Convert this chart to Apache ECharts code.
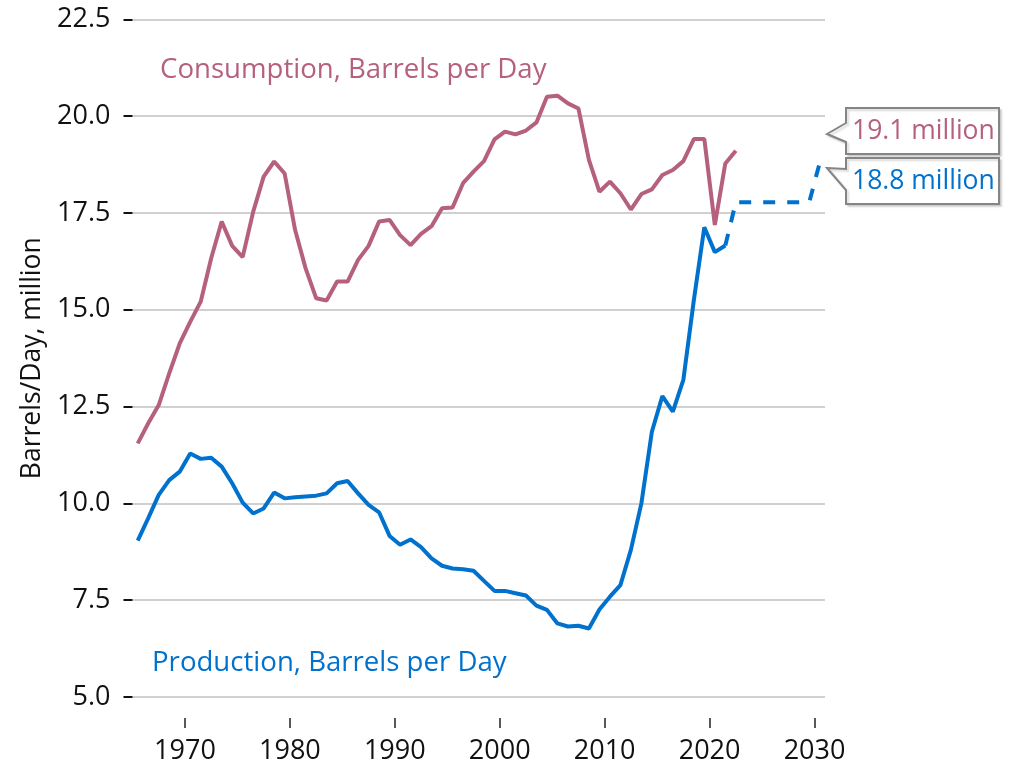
<!DOCTYPE html>
<html>
<head>
<meta charset="utf-8">
<script src="https://cdn.jsdelivr.net/npm/echarts@6/dist/echarts.min.js"></script>
<style>
  html, body { margin: 0; padding: 0; background: #fff; }
  #chart { width: 1009px; height: 768px; }
</style>
</head>
<body>
<div id="chart"></div>
<script>
// annual values, million barrels per day
const years = [];
for (let y = 1965; y <= 2022; y++) years.push(y);

const consumption = [
  11.55, 12.07, 12.54, 13.36, 14.13, 14.69, 15.21, 16.33, 17.28, 16.65,
  16.36, 17.53, 18.44, 18.83, 18.52, 17.06, 16.07, 15.30, 15.24, 15.73,
  15.73, 16.29, 16.65, 17.28, 17.32, 16.93, 16.67, 16.96, 17.16, 17.62,
  17.64, 18.27, 18.57, 18.84, 19.40, 19.60, 19.53, 19.63, 19.84, 20.50,
  20.53, 20.33, 20.20, 18.87, 18.05, 18.31, 18.01, 17.59, 17.99, 18.11,
  18.48, 18.61, 18.84, 19.41, 19.41, 17.19, 18.78, 19.11
]

const productionYears = years.slice(0, 57) // 1965-2021
const production = [
  9.04, 9.62, 10.22, 10.60, 10.82, 11.29, 11.15, 11.18, 10.95, 10.52,
  10.02, 9.74, 9.87, 10.28, 10.13, 10.16, 10.18, 10.20, 10.26, 10.52,
  10.58, 10.26, 9.96, 9.77, 9.16, 8.93, 9.07, 8.87, 8.58, 8.39,
  8.32, 8.30, 8.26, 8.00, 7.74, 7.74, 7.68, 7.62, 7.36, 7.25,
  6.90, 6.82, 6.84, 6.77, 7.26, 7.59, 7.89, 8.80, 10.00, 11.85,
  12.77, 12.37, 13.19, 15.25, 17.13, 16.49, 16.66
]

// projection (dashed), starts from last actual point
const projectionYears = [2021, 2022, 2023, 2024, 2025, 2026, 2027, 2028, 2029, 2030]
const projection = [16.66, 17.78, 17.78, 17.78, 17.78, 17.78, 17.78, 17.78, 17.78, 18.80]

const xTicks = [1970, 1980, 1990, 2000, 2010, 2020, 2030]

const PINK = '#b5607f'
const BLUE = '#0072ce'
const FONT = 'Open Sans'

// annual values are plotted at mid-year
const pairs = (xs, vs) => xs.map((x, i) => [x + 0.5, vs[i]])

const chart = echarts.init(document.getElementById('chart'))

function callout(top, bottom, tipY, baseTop, baseBottom, text, color) {
  const l = 846, r = 999, tip = 827
  return [{
    type: 'polygon',
    shape: {
      points: [[tip, tipY], [l, baseTop], [l, top], [r, top], [r, bottom], [l, bottom], [l, baseBottom]]
    },
    style: {
      fill: '#fff', stroke: '#858585', lineWidth: 2,
      shadowColor: 'rgba(0,0,0,0.15)', shadowBlur: 2, shadowOffsetX: 2, shadowOffsetY: 2
    }
  }, {
    type: 'text',
    x: 852,
    y: (top + bottom) / 2,
    style: { text: text, fill: color, font: '26.5px "' + FONT + '"', verticalAlign: 'middle' }
  }]
}

chart.setOption({
  animation: false,
  grid: { left: 132.5, right: 184, top: 19.4, bottom: 71 },
  xAxis: {
    type: 'value',
    min: 1965,
    max: 2031,
    offset: 21,
    splitLine: { show: false },
    axisLine: { show: false },
    axisTick: { show: true, length: 10, customValues: xTicks, lineStyle: { color: '#222', width: 1.5 } },
    axisLabel: {
      customValues: xTicks,
      margin: 20,
      color: '#111',
      fontFamily: FONT,
      fontSize: 27,
      formatter: v => String(v)
    }
  },
  yAxis: {
    type: 'value',
    min: 5,
    max: 22.5,
    interval: 2.5,
    name: 'Barrels/Day, million',
    nameLocation: 'middle',
    nameGap: 86,
    nameTextStyle: { color: '#111', fontFamily: FONT, fontSize: 26.5 },
    axisLine: { show: false },
    axisTick: { show: true, length: 9, lineStyle: { color: '#111', width: 2 } },
    splitLine: { lineStyle: { color: '#d0d0d0', width: 2 } },
    axisLabel: {
      margin: 22,
      color: '#111',
      fontFamily: FONT,
      fontSize: 27,
      formatter: v => v.toFixed(1)
    }
  },
  series: [
    {
      name: 'Consumption',
      type: 'line',
      data: pairs(years, consumption),
      showSymbol: false,
      lineStyle: { color: PINK, width: 4 },
      itemStyle: { color: PINK }
    },
    {
      name: 'Production',
      type: 'line',
      data: pairs(productionYears, production),
      showSymbol: false,
      lineStyle: { color: BLUE, width: 4 },
      itemStyle: { color: BLUE }
    },
    {
      name: 'Production projection',
      type: 'line',
      data: pairs(projectionYears, projection),
      showSymbol: false,
      lineStyle: { color: BLUE, width: 4, type: [12, 12] },
      itemStyle: { color: BLUE }
    }
  ],
  graphic: [
    {
      type: 'text', x: 160, y: 70,
      style: { text: 'Consumption, Barrels per Day', fill: PINK, font: '27.6px "' + FONT + '"', verticalAlign: 'middle' }
    },
    {
      type: 'text', x: 152, y: 663,
      style: { text: 'Production, Barrels per Day', fill: BLUE, font: '27.6px "' + FONT + '"', verticalAlign: 'middle' }
    },
    ...callout(108, 154, 134, 123, 142, '19.1 million', PINK),
    ...callout(158, 204, 168, 169, 190, '18.8 million', BLUE)
  ]
})
</script>
</body>
</html>
